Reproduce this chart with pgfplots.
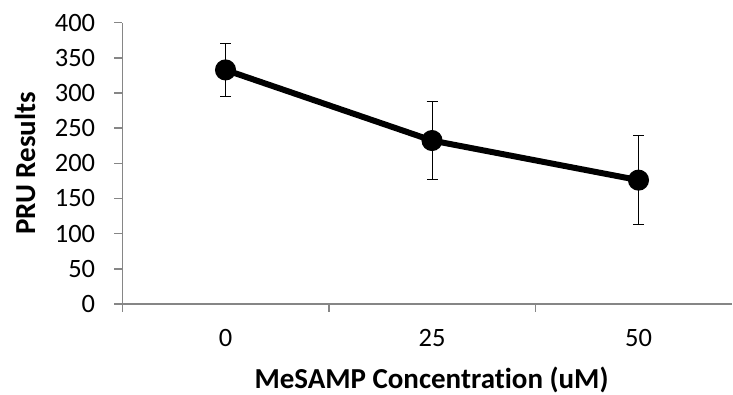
\documentclass[border=0pt]{standalone}
\usepackage{pgfplots}
\pgfplotsset{compat=1.18}
\usepackage{fontspec}
\setmainfont{Carlito}[Ligatures=NoCommon]
\definecolor{axgray}{HTML}{868686}
\begin{document}
\begin{tikzpicture}[x=1pt,y=1pt]
\begin{axis}[
  at={(0,0)}, anchor=south west,
  scale only axis,
  width=610.6pt, height=281.6pt,
  xmin=-0.5, xmax=2.454,
  ymin=0, ymax=400,
  axis lines*=left,
  axis line style={axgray, line width=1.5pt},
  ytick={0,50,...,400},
  xtick={0,1,2},
  xticklabels={0,25,50},
  minor xtick={-0.5,0.5,1.5},
  tick align=outside,
  major tick length=8pt,
  minor tick length=8pt,
  major x tick style={draw=none},
  minor x tick style={axgray, line width=1.5pt},
  major y tick style={axgray, line width=1.5pt},
  /pgf/number format/assume math mode=true,
  tick label style={font=\fontsize{26.5}{30}\selectfont, black},
  yticklabel style={anchor=east, inner sep=0pt, xshift=-19pt},
  xticklabel style={anchor=base, inner sep=0pt, yshift=-35pt},
  xlabel={MeSAMP Concentration (uM)},
  ylabel={PRU Results},
  label style={font=\bfseries\fontsize{29}{32}\selectfont},
  xlabel style={at={(axis description cs:0.507,-0.300)}, anchor=base, inner sep=0pt},
  ylabel style={at={(axis description cs:-0.1595,0.5)}, anchor=center, inner sep=0pt},
  clip=false,
]
\addplot[black, line width=6pt, mark=*, mark size=7.5pt, mark options={solid},
  error bars/.cd, y dir=both, y explicit,
  error bar style={line width=1pt, black},
  error mark options={rotate=90, mark size=5.5pt, line width=1pt, black}]
  table[x=x, y=y, y error=e] {
  x y e
  0 332.8 37.1
  1 232.4 56.1
  2 176.1 63.5
  };
\end{axis}
\useasboundingbox (-122.4,-90.7) rectangle (610.6,304.3);
\end{tikzpicture}
\end{document}
